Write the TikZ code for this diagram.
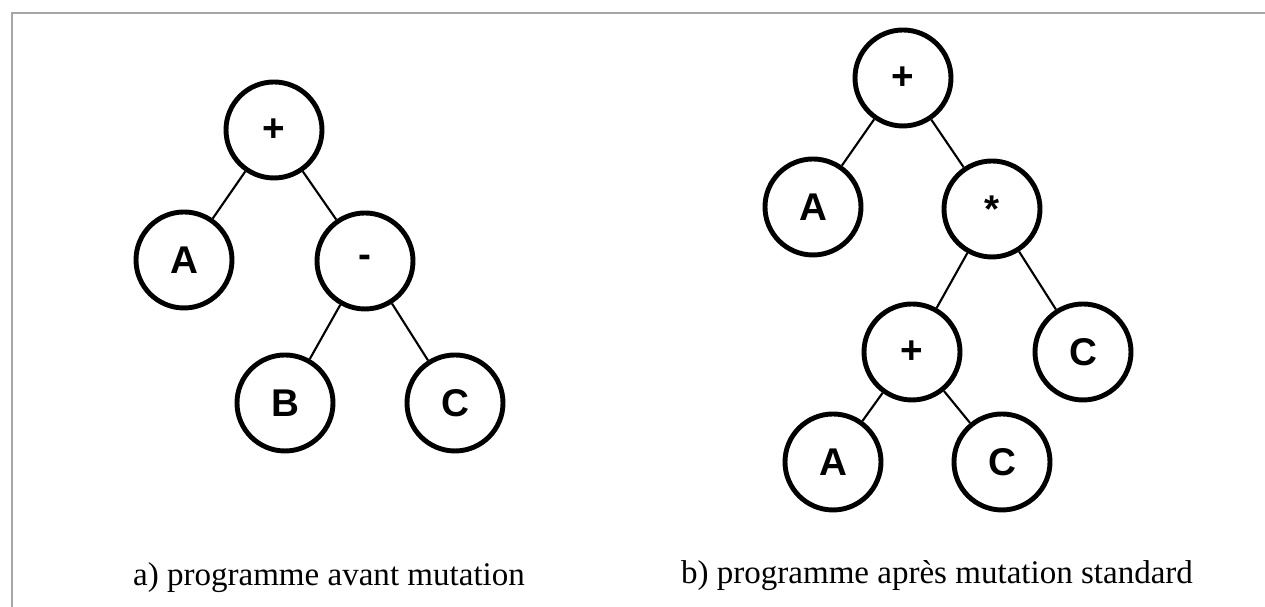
\documentclass[tikz,border=0pt]{standalone}
\usepackage{fontspec}
\setmainfont{Liberation Serif}
\newfontfamily\noeudfont{Liberation Sans}
\tikzset{
  noeud/.style={circle, draw, line width=1.4pt, minimum size=9.6mm, inner sep=0pt, font=\noeudfont\bfseries\fontsize{11}{13}\selectfont},
  arete/.style={line width=0.6pt},
  legende/.style={font=\fontsize{9.4}{11}\selectfont}
}
\begin{document}
\begin{tikzpicture}[x=0.1mm, y=-0.1mm]
\useasboundingbox (0,0) rectangle (1265,607);
\draw[gray!70, line width=0.6pt] (12,607) -- (12,13) -- (1265,13);
% a) avant mutation
\node[noeud] (a1) at (274,130) {+};
\node[noeud] (a2) at (184,260) {A};
\node[noeud] (a3) at (365,261) {-};
\node[noeud] (a4) at (285,403) {B};
\node[noeud] (a5) at (455,403) {C};
\draw[arete] (a1) -- (a2);
\draw[arete] (a1) -- (a3);
\draw[arete] (a3) -- (a4);
\draw[arete] (a3) -- (a5);
\node[legende] (la) at (329,578) {a) programme avant mutation};
% b) apres mutation standard
\node[noeud] (b1) at (903,78) {+};
\node[noeud] (b2) at (813,207) {A};
\node[noeud] (b3) at (992,209) {*};
\node[noeud] (b4) at (912,352) {+};
\node[noeud] (b5) at (1083,352) {C};
\node[noeud] (b6) at (833,462) {A};
\node[noeud] (b7) at (1002,462) {C};
\draw[arete] (b1) -- (b2);
\draw[arete] (b1) -- (b3);
\draw[arete] (b3) -- (b4);
\draw[arete] (b3) -- (b5);
\draw[arete] (b4) -- (b6);
\draw[arete] (b4) -- (b7);
\node[legende] (lb) at (937,576) {b) programme après mutation standard};
\end{tikzpicture}
\end{document}
